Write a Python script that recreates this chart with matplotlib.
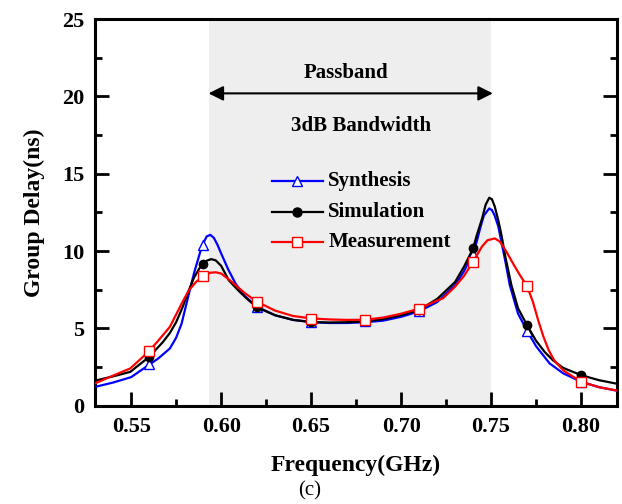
import matplotlib
matplotlib.use("Agg")
from matplotlib import pyplot as plt
from matplotlib.ticker import MultipleLocator

# curve points (GHz, ns)
syn_f = [0.53, 0.54, 0.55, 0.56, 0.565, 0.5715, 0.575, 0.578, 0.582, 0.585, 0.5895,
         0.592, 0.594, 0.596, 0.598, 0.600, 0.604, 0.608, 0.613, 0.62, 0.63, 0.64, 0.65,
         0.66, 0.67, 0.68, 0.69, 0.70, 0.71, 0.72, 0.73, 0.735, 0.74, 0.742, 0.744,
         0.746, 0.749, 0.7505, 0.752, 0.754, 0.755, 0.758, 0.7604, 0.765, 0.77, 0.775,
         0.7825, 0.79, 0.80, 0.81, 0.82]
syn_v = [1.22, 1.5, 1.85, 2.65, 3.05, 3.7, 4.4, 5.3, 7.2, 8.6, 10.39,
         10.95, 11.05, 10.85, 10.4, 9.85, 8.8, 7.9, 7.1, 6.4, 5.85, 5.55, 5.4,
         5.35, 5.35, 5.4, 5.5, 5.75, 6.1, 6.7, 7.8, 8.7, 9.9, 10.6, 11.5,
         12.3, 12.76, 12.65, 12.3, 11.6, 11.03, 9.3, 7.8, 5.95, 4.85, 3.85,
         2.74, 2.1, 1.55, 1.2, 0.97]

sim_f = [0.53, 0.54, 0.5495, 0.56, 0.5675, 0.5715, 0.575, 0.5785, 0.582, 0.585, 0.588,
         0.59, 0.592, 0.5945, 0.597, 0.60, 0.6042, 0.61, 0.615, 0.62, 0.63, 0.64, 0.65,
         0.66, 0.67, 0.68, 0.69, 0.70, 0.71, 0.72, 0.73, 0.735, 0.74, 0.742, 0.745,
         0.747, 0.749, 0.7505, 0.752, 0.754, 0.7558, 0.758, 0.7613, 0.765, 0.77, 0.775,
         0.78, 0.7843, 0.79, 0.80, 0.81, 0.82]
sim_v = [1.62, 1.9, 2.19, 3.16, 4.1, 4.7, 5.4, 6.35, 7.45, 8.3, 8.9,
         9.14, 9.38, 9.48, 9.4, 9.05, 8.12, 7.4, 6.85, 6.36, 5.85, 5.55, 5.42,
         5.38, 5.4, 5.45, 5.6, 5.85, 6.2, 6.9, 8.0, 9.0, 10.17, 11.0, 12.1,
         13.0, 13.45, 13.35, 12.9, 12.0, 11.03, 9.6, 7.8, 6.3, 5.21, 4.2,
         3.45, 2.95, 2.45, 1.98, 1.65, 1.42]

mea_f = [0.53, 0.54, 0.5495, 0.56, 0.565, 0.5715, 0.575, 0.5785, 0.582, 0.586, 0.59,
         0.594, 0.597, 0.60, 0.605, 0.61, 0.6134, 0.62, 0.63, 0.64, 0.65, 0.66, 0.67,
         0.68, 0.69, 0.70, 0.71, 0.72, 0.7233, 0.73, 0.735, 0.74, 0.745, 0.748, 0.7521,
         0.755, 0.7586, 0.7622, 0.766, 0.77, 0.7733, 0.776, 0.779, 0.782, 0.785, 0.79,
         0.80, 0.81, 0.82]
mea_v = [1.45, 1.95, 2.41, 3.53, 4.2, 5.1, 5.9, 6.7, 7.45, 8.0, 8.38,
         8.6, 8.63, 8.55, 8.1, 7.6, 7.26, 6.72, 6.15, 5.8, 5.65, 5.58, 5.55,
         5.56, 5.7, 5.95, 6.28, 6.8, 6.95, 7.7, 8.4, 9.31, 10.3, 10.7, 10.82,
         10.6, 9.95, 9.2, 8.45, 7.74, 6.7, 5.6, 4.5, 3.6, 2.95, 2.3,
         1.55, 1.2, 0.98]

# marker points
mk_f = [0.56, 0.59, 0.62, 0.65, 0.68, 0.71, 0.74, 0.77, 0.80]
syn_mk = [2.69, 10.39, 6.4, 5.4, 5.45, 6.1, 9.8, 4.85, 1.55]
sim_mk = [3.16, 9.14, 6.36, 5.42, 5.45, 6.2, 10.17, 5.21, 1.98]
mea_mk = [3.53, 8.38, 6.72, 5.62, 5.54, 6.23, 9.31, 7.74, 1.55]

band_lo, band_hi = 0.593, 0.75

plt.rcParams['font.family'] = 'Liberation Serif'
plt.rcParams['font.weight'] = 'bold'
plt.rcParams['axes.labelweight'] = 'bold'

fig = plt.figure(figsize=(6.22, 5.04), dpi=100)
ax = fig.add_axes([0.153, 0.195, 0.839, 0.767])

ax.axvspan(band_lo, band_hi, color='#eeeeee', zorder=0, lw=0)

ax.plot(syn_f, syn_v, color='#0000ff', lw=1.6, zorder=3)
ax.plot(sim_f, sim_v, color='black', lw=1.6, zorder=4)
ax.plot(mea_f, mea_v, color='#ff0000', lw=1.6, zorder=5)
ax.plot(mk_f, syn_mk, ls='none', marker='^', ms=7, mfc='white', mec='#0000ff', mew=1, zorder=3)
ax.plot(mk_f, sim_mk, ls='none', marker='o', ms=6, color='black', zorder=4)
ax.plot(mk_f, mea_mk, ls='none', marker='s', ms=6.5, mfc='white', mec='#ff0000', mew=1, zorder=5)

# legend drawn by hand
legend = [('Synthesis', '#0000ff', '^', 'white', 14.55),
          ('Simulation', 'black', 'o', 'black', 12.55),
          ('Measurement', '#ff0000', 's', 'white', 10.6)]
for name, c, m, fc, y in legend:
    ax.plot([0.6282, 0.6568], [y, y], color=c, lw=1.6)
    ax.plot([0.642], [y], marker=m, ms=6.5, mfc=fc, mec=c, mew=1, ls='none')
    ax.text(0.6596, y, name, fontsize=15, va='center', ha='left')

ax.annotate('', xy=(band_lo, 20.2), xytext=(band_hi + 0.001, 20.2),
            arrowprops=dict(arrowstyle='<|-|>', color='black', lw=1.5,
                            mutation_scale=22, shrinkA=0, shrinkB=0))
ax.text(0.6695, 21.5, 'Passband', fontsize=15, ha='center', va='center')
ax.text(0.678, 18.1, '3dB Bandwidth', fontsize=15, ha='center', va='center')

ax.set_xlim(0.53, 0.82)
ax.set_ylim(0, 25)
ax.xaxis.set_minor_locator(MultipleLocator(0.025))
ax.yaxis.set_major_locator(MultipleLocator(5))
ax.yaxis.set_minor_locator(MultipleLocator(2.5))
ax.set_xticks([0.55, 0.60, 0.65, 0.70, 0.75, 0.80])
ax.set_xticklabels(['0.55', '0.60', '0.65', '0.70', '0.75', '0.80'])
ax.tick_params(which='both', direction='in', width=2, right=True, top=False,
               labelsize=16)
ax.tick_params(which='major', length=10, pad=8)
ax.tick_params(which='minor', length=5)
for s in ax.spines.values():
    s.set_linewidth(2.2)

ax.set_xlabel('Frequency(GHz)', fontsize=17, labelpad=13)
ax.set_ylabel('Group Delay(ns)', fontsize=17, labelpad=12)
fig.text(0.498, 0.027, '(c)', fontsize=15, fontweight='normal', ha='center', va='center')

fig.savefig('out.png', dpi=100)
